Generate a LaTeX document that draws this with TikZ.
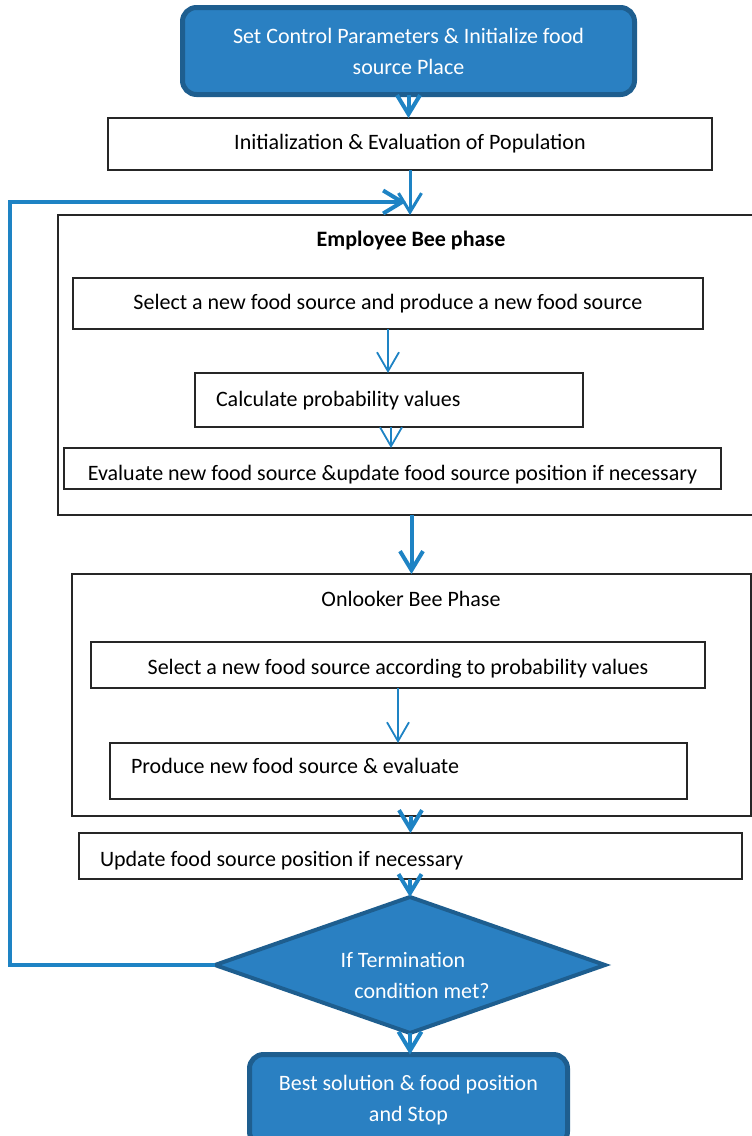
\documentclass[tikz,border=0pt]{standalone}
\usepackage{fontspec}
\setmainfont{Carlito}
\usetikzlibrary{arrows.meta,shapes.geometric}

\definecolor{bluefill}{RGB}{42,128,194}
\definecolor{blueedge}{RGB}{30,94,143}
\definecolor{flowblue}{RGB}{30,131,196}

% a line of text set flush left in a field of given width
\newcommand{\flushtext}[2]{\makebox[#1][l]{#2}}

\begin{document}
\begin{tikzpicture}[x=1pt,y=-1pt,
  every node/.style={font=\fontsize{22}{31}\selectfont, inner sep=0pt, outer sep=0pt},
  stepbox/.style={draw=black!85, line width=1.5pt, fill=white, rectangle, align=center},
  leftbox/.style={stepbox, inner xsep=21pt},
  framebox/.style={draw=black!85, line width=1.5pt, rectangle},
  terminal/.style={draw=blueedge, line width=5pt, fill=bluefill, rounded corners=14pt,
                   text=white, align=center},
  decision/.style={draw=blueedge, line width=4pt, fill=bluefill, diamond},
  thickflow/.style={draw=flowblue, line width=4pt, -{Straight Barb[length=19pt,width=23pt]}},
  thinflow/.style={draw=flowblue, line width=1.8pt, -{Straight Barb[length=19pt,width=22pt]}},
]
\useasboundingbox (0,0) rectangle (752,1136);
\clip (0,0) rectangle (752,1136);

% start and initialisation
\node[terminal, minimum width=452pt, minimum height=87pt] (start) at (408.5,51)
  {Set Control Parameters \& Initialize food\\source Place};
\node[stepbox, minimum width=604pt, minimum height=52pt] (init) at (410,144)
  {Initialization \& Evaluation of Population};

% employee bee phase
\node[framebox, minimum width=722pt, minimum height=300pt] (emp) at (419,365) {};
\node[font=\fontsize{22}{31}\selectfont\bfseries] (empTitle) at (411,241) {Employee Bee phase};
\node[stepbox, minimum width=630pt, minimum height=51pt] (sel1) at (388,303.5)
  {Select a new food source and produce a new food source};
\node[leftbox, minimum height=54pt, text height=16pt, text depth=3pt]
  (calc) at (389,400) {\flushtext{346pt}{Calculate probability values}};
\node[stepbox, minimum width=657pt, minimum height=41pt, text height=26pt, text depth=3pt]
  (eval) at (392.5,468.5)
  {Evaluate new food source \&update food source position if necessary};

% onlooker bee phase
\node[framebox, minimum width=679pt, minimum height=242pt] (onl) at (411.5,695) {};
\node (onlTitle) at (411,599) {Onlooker Bee Phase};
\node[stepbox, minimum width=614pt, minimum height=46pt, text height=22pt, text depth=3pt]
  (sel2) at (398,665)
  {Select a new food source according to probability values};
\node[leftbox, minimum height=56pt, text height=12pt, text depth=7pt]
  (prod) at (398.5,771) {\flushtext{535pt}{Produce new food source \& evaluate}};

\node[leftbox, minimum height=46pt, text height=24pt, text depth=3pt]
  (upd) at (410.5,856) {\flushtext{621pt}{Update food source position if necessary}};

% termination test and end
\node[decision, minimum width=390pt, minimum height=136pt] (dia) at (410,965) {};
\node[text=white, align=center] (diaText) at (410,975)
  {If Termination\rule{14pt}{0pt}\\\rule{24pt}{0pt}condition met?};
\node[terminal, minimum width=318pt, minimum height=91pt] (stop) at (408.5,1100)
  {Best solution \& food position\\and Stop};

% connectors
\coordinate (loopx) at (10,0);
\coordinate (loopy) at (0,202);

\draw[thickflow] (start.south) -- (init.north -| start.south);
\draw[thickflow, line width=3pt] (init.south) -- (emp.north -| init.south);
\draw[thickflow, shorten >=4pt] (dia.west) -- (dia.west -| loopx) -- (loopx |- loopy)
  -- (init.south |- loopy);
\draw[thinflow] (sel1.south) -- (calc.north -| sel1.south);
\draw[thinflow] ([xshift=2pt]calc.south) -- ([xshift=2pt]eval.north -| calc.south);
\draw[thickflow] (onl.north |- emp.south) -- (onl.north);
\draw[thinflow] (sel2.south) -- (prod.north -| sel2.south);
\draw[thickflow] (upd.north |- onl.south) -- (upd.north);
\draw[thickflow] (dia.north |- upd.south) -- (dia.north);
\draw[thickflow] (dia.south) -- (stop.north -| dia.south);
\end{tikzpicture}
\end{document}
